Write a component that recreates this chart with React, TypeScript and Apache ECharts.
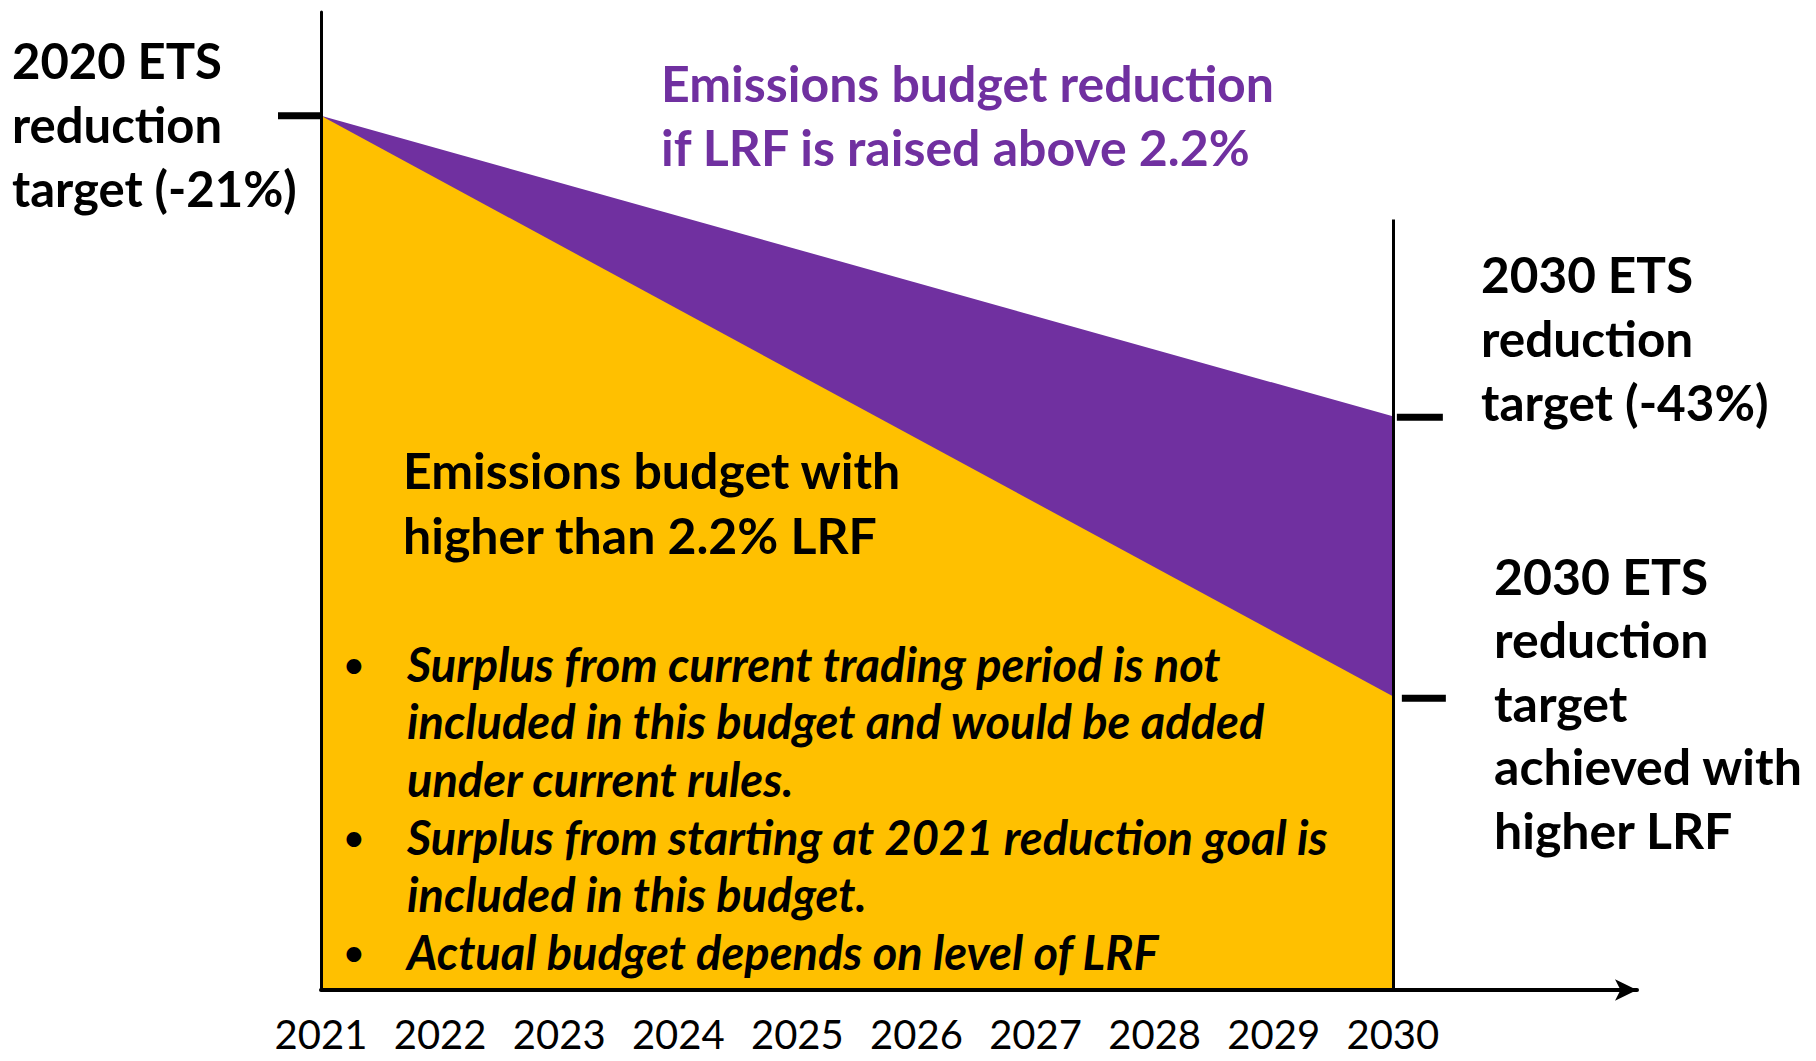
import React, { useEffect, useRef } from "react";
import * as echarts from "echarts";

// ---- data ----
const years = [2021, 2022, 2023, 2024, 2025, 2026, 2027, 2028, 2029, 2030];
const pathYears = [2021, 2030];
const raisedLrfPath = [79, 57]; // purple upper boundary (-21% -> -43%)
const higherLrfPath = [79, 36.5]; // yellow boundary (higher LRF)
const levelMin = 15;
const levelMax = 86.6;
const xMax = 2032.05;
const rightLineTop = 71.4;

const leftNote = ["2020 ETS", "reduction", "target (-21%)"];
const purpleNote = ["Emissions budget reduction", "if LRF is raised above 2.2%"];
const yellowNote = ["Emissions budget with", "higher than 2.2% LRF"];
const bulletLines = [
  "Surplus from current trading period is not",
  "included in this budget and would be added",
  "under current rules.",
  "Surplus from starting at 2021 reduction goal is",
  "included in this budget.",
  "Actual budget depends on level of LRF",
];
const bulletMarks = ["•", "", "", "•", "", "•"];
const rightNote1 = ["2030 ETS", "reduction", "target (-43%)"];
const rightNote2 = ["2030 ETS", "reduction", "target", "achieved with", "higher LRF"];

const FONT = "Lato, 'Open Sans', sans-serif";

export default function App() {
  const ref = useRef<HTMLDivElement>(null);

  useEffect(() => {
    if (!ref.current) return;
    const el = ref.current;
    const chart = echarts.init(el, null, { renderer: "svg" });
    const toPairs = (vals: number[]) => pathYears.map((x, i) => [x, vals[i]]);

    chart.setOption({
      animation: false,
      backgroundColor: "#ffffff",
      grid: { left: 321, top: 12, right: 179, bottom: 71, containLabel: false },
      xAxis: {
        type: "value",
        min: 2021,
        max: xMax,
        interval: 1,
        z: 10,
        axisLine: {
          show: true,
          onZero: false,
          lineStyle: { color: "#000", width: 4 },
          symbol: ["none", "arrow"],
          symbolSize: [16, 22],
        },
        axisTick: { show: false },
        splitLine: { show: false },
        axisLabel: {
          show: true,
          margin: 29,
          fontSize: 40,
          lineHeight: 30,
          fontFamily: FONT,
          color: "#000",
          showMaxLabel: false,
          formatter: (v: number) => (years.indexOf(v) >= 0 ? String(v) : ""),
        },
      },
      yAxis: {
        type: "value",
        min: levelMin,
        max: levelMax,
        z: 10,
        axisLine: { show: true, onZero: false, lineStyle: { color: "#000", width: 3 } },
        axisTick: { show: false },
        axisLabel: { show: false },
        splitLine: { show: false },
      },
      series: [
        {
          type: "line",
          name: "Raised LRF reduction",
          data: toPairs(raisedLrfPath),
          symbol: "none",
          silent: true,
          lineStyle: { width: 0 },
          areaStyle: { color: "#7030A0", opacity: 1, origin: "start" },
          z: 2,
        },
        {
          type: "line",
          name: "Higher LRF budget",
          data: toPairs(higherLrfPath),
          symbol: "none",
          silent: true,
          lineStyle: { width: 0 },
          areaStyle: { color: "#FFC000", opacity: 1, origin: "start" },
          z: 3,
          markLine: {
            silent: true,
            symbol: "none",
            label: { show: false },
            lineStyle: { color: "#000", width: 3, type: "solid" },
            data: [[{ coord: [2030, levelMin] }, { coord: [2030, rightLineTop] }]],
          },
        },
      ],
    });

    const p21 = chart.convertToPixel({ gridIndex: 0 }, [2021, raisedLrfPath[0]]) as number[];
    const p30a = chart.convertToPixel({ gridIndex: 0 }, [2030, raisedLrfPath[1]]) as number[];
    const p30b = chart.convertToPixel({ gridIndex: 0 }, [2030, higherLrfPath[1]]) as number[];

    const tick = (x1: number, x2: number, y: number) => ({
      type: "line",
      shape: { x1, y1: y, x2, y2: y },
      style: { stroke: "#000", lineWidth: 7 },
      z: 20,
    });
    const txt = (
      lines: string[],
      x: number,
      y: number,
      size: number,
      lh: number,
      color = "#000",
      italic = false
    ) => ({
      type: "text",
      x,
      y,
      z: 30,
      style: {
        text: lines.join("\n"),
        fontSize: size,
        fontWeight: "bold",
        fontStyle: italic ? "italic" : "normal",
        fontFamily: FONT,
        fill: color,
        lineHeight: lh,
        verticalAlign: "top",
        align: "left",
      },
    });

    chart.setOption({
      graphic: [
        tick(p21[0] - 43, p21[0], p21[1]),
        tick(p30a[0] + 4, p30a[0] + 50, p30a[1] + 1),
        tick(p30b[0] + 9, p30b[0] + 53, p30b[1] + 2),
        txt(leftNote, 12, 28, 49, 64),
        txt(purpleNote, 661, 51, 50, 64, "#7030A0"),
        txt(yellowNote, 403, 437, 50, 65),
        txt(bulletLines, 407, 635, 47, 57.6, "#000", true),
        txt(bulletMarks, 344, 635, 34, 57.6),
        txt(rightNote1, 1481, 242, 49.5, 64),
        txt(rightNote2, 1494, 544, 50, 63.5),
      ],
    });

    return () => chart.dispose();
  }, []);

  return (
    <div
      ref={ref}
      style={{ position: "fixed", left: 0, top: 0, width: 1816, height: 1061, background: "#fff" }}
    />
  );
}
